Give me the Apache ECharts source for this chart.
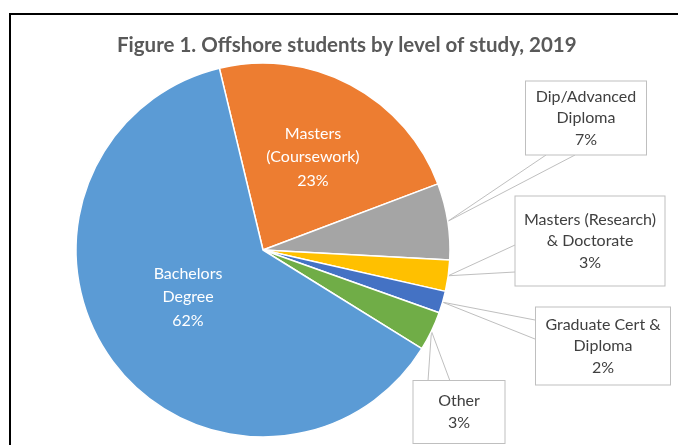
<!DOCTYPE html>
<html>
<head>
<meta charset="utf-8">
<script src="https://cdn.jsdelivr.net/npm/echarts@6/dist/echarts.min.js"></script>
<style>
  html, body { margin: 0; padding: 0; background: #fff; }
  #chart { width: 678px; height: 445px; }
</style>
</head>
<body>
<div id="chart"></div>
<script>
// ---- Data ----
const titleText = 'Figure 1. Offshore students by level of study, 2019';
const categories = [
  'Masters\n(Coursework)',
  'Dip/Advanced\nDiploma',
  'Masters (Research)\n& Doctorate',
  'Graduate Cert &\nDiploma',
  'Other',
  'Bachelors\nDegree'
];
const values = [23.0, 6.6, 2.7, 1.9, 3.4, 62.4];
const colors = ['#ED7D31', '#A5A5A5', '#FFC000', '#4472C4', '#70AD47', '#5B9BD5'];

// ---- Layout / styling ----
const FONT = 'Lato';
const insideIdx = [0, 5];
// label anchor (centre) positions and box sizes
const labelCenters = [[313, 157], [586, 118], [590, 241], [603, 346], [459, 412], [188, 297]];
const boxSizes = [null, [122, 73], [151, 89], [136, 77], [93, 62], null];
// callout wedge end points on the box edge
const wedgeEnds = [null, [[546, 155], [575, 155]], [[515, 245], [515, 272]], [[535, 320], [535, 339]], [[428, 381], [450, 381]], null];

const chart = echarts.init(document.getElementById('chart'), null, { renderer: 'canvas' });

const seriesData = categories.map(function (name, i) {
  const item = { name: name, value: values[i], itemStyle: { color: colors[i] } };
  if (insideIdx.indexOf(i) >= 0) {
    item.label = { color: '#ffffff', lineHeight: 23.5 };
    item.labelLine = { show: false };
  } else {
    const lines = name.split('\n').length + 1;
    const lh = 21.5;
    const w = boxSizes[i][0], h = boxSizes[i][1];
    const pv = Math.max(0, (h - lines * lh) / 2);
    item.label = {
      color: '#404040',
      lineHeight: lh,
      width: w - 2,
      padding: [pv, 0, pv, 0],
      backgroundColor: '#ffffff',
      borderColor: '#BFBFBF',
      borderWidth: 1
    };
    item.labelLine = { show: true };
  }
  return item;
});

chart.setOption({
  animation: false,
  backgroundColor: '#ffffff',
  title: {
    text: titleText,
    left: 112,
    top: 30,
    textStyle: { fontFamily: FONT, fontSize: 20.5, fontWeight: 'bold', color: '#595959' }
  },
  graphic: [{
    type: 'rect',
    shape: { x: 10, y: 14, width: 700, height: 500 },
    style: { fill: 'none', stroke: '#000000', lineWidth: 2 },
    silent: true,
    z: 100
  }],
  series: [{
    type: 'pie',
    center: [263, 250],
    radius: 187,
    startAngle: 103.5,
    clockwise: true,
    avoidLabelOverlap: false,
    percentPrecision: 0,
    itemStyle: { borderColor: '#ffffff', borderWidth: 1.5 },
    label: {
      show: true,
      position: 'outside',
      formatter: '{b}\n{d}%',
      fontFamily: FONT,
      fontSize: 16,
      align: 'center'
    },
    labelLine: {
      show: true,
      smooth: false,
      lineStyle: { color: '#BFBFBF', width: 1 }
    },
    labelLayout: function (p) {
      const i = p.dataIndex;
      const c = labelCenters[i];
      const res = { x: c[0], y: c[1], align: 'center', verticalAlign: 'middle' };
      if (wedgeEnds[i] && p.labelLinePoints) {
        const p0 = p.labelLinePoints[0];
        res.labelLinePoints = [wedgeEnds[i][0], [p0[0], p0[1]], wedgeEnds[i][1]];
      }
      return res;
    },
    data: seriesData
  }]
});
</script>
</body>
</html>
